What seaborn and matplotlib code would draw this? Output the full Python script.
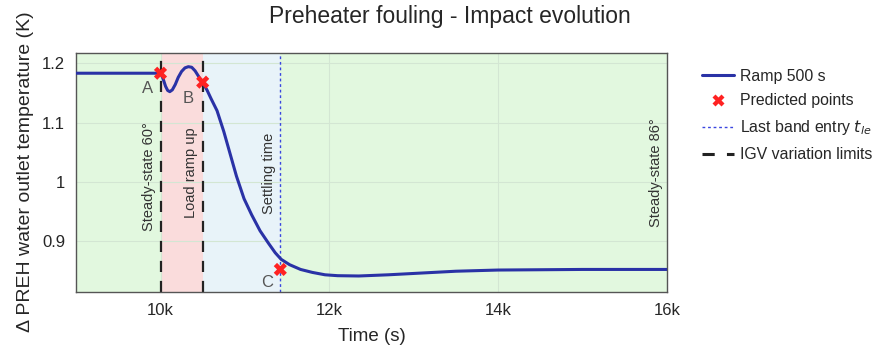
import numpy as np
import pandas as pd
import seaborn as sns
import matplotlib.pyplot as plt
from matplotlib.lines import Line2D
from matplotlib.ticker import FuncFormatter

# curve: time (s) and delta temperature (K)
time_s = [9000, 9500, 9900, 10000, 10030, 10060, 10085, 10110, 10140, 10175, 10210,
          10250, 10290, 10330, 10370, 10410, 10450, 10500, 10550, 10600, 10670,
          10750, 10830, 10900, 10990, 11080, 11180, 11280, 11360, 11430, 11530,
          11660, 11800, 11950, 12100, 12350, 12700, 13100, 13500, 14000, 15000, 16000]
delta_t = [1.183, 1.183, 1.183, 1.183, 1.174, 1.161, 1.154, 1.152, 1.155, 1.164, 1.176,
           1.186, 1.192, 1.194, 1.193, 1.187, 1.178, 1.167, 1.155, 1.140, 1.120,
           1.085, 1.045, 1.010, 0.972, 0.945, 0.918, 0.897, 0.881, 0.870, 0.861,
           0.853, 0.848, 0.844, 0.8425, 0.842, 0.844, 0.847, 0.850, 0.852, 0.853, 0.853]

pred_names = ['A', 'B', 'C']
pred_time = [10000, 10500, 11420]
pred_val = [1.183, 1.168, 0.853]

igv_limits = [10000, 10500]
settling_t = 11420

df = pd.DataFrame({'t': time_s, 'dT': delta_t})
pts = pd.DataFrame({'t': pred_time, 'dT': pred_val, 'name': pred_names})

sns.set_style('white')
plt.rcParams['font.family'] = ['Liberation Sans', 'DejaVu Sans']

fig = plt.figure(figsize=(8.75, 3.51), dpi=100)
ax = fig.add_axes([0.087, 0.169, 0.675, 0.681])
ax.set_facecolor('#e2f8df')

# shaded phases
ax.axvspan(igv_limits[0], igv_limits[1], color='#fadcdc', zorder=0.2, lw=0)
ax.axvspan(igv_limits[1], settling_t, color='#e8f3f9', zorder=0.2, lw=0)
ax.set_axisbelow(True)
ax.grid(True, color='#d3e6d3', lw=0.8)

for xv in igv_limits:
    ax.axvline(xv, color='#222222', lw=1.6, dashes=(5, 4), zorder=2)
ax.axvline(settling_t, color='#3a46e0', lw=1.0, dashes=(2, 2), zorder=2)

sns.lineplot(data=df, x='t', y='dT', ax=ax, color='#2a32a6', lw=2.2,
             estimator=None, sort=False, zorder=3)
sns.scatterplot(data=pts, x='t', y='dT', ax=ax, marker='X', s=90,
                color='#ff2222', edgecolor='none', zorder=4)

lab_off = {'A': (-150, -0.025), 'B': (-170, -0.028), 'C': (-160, -0.022)}
for n, tx, v in zip(pred_names, pred_time, pred_val):
    dx, dy = lab_off[n]
    ax.text(tx + dx, v + dy, n, color='#555555', fontsize=12, ha='center', va='center')

# phase labels
ax.text(9858, 1.01, 'Steady-state 60°', rotation=90, ha='center', va='center',
        fontsize=10.5, color='#333333')
ax.text(10363, 1.015, 'Load ramp up', rotation=90, ha='center', va='center',
        fontsize=10.5, color='#333333')
ax.text(11284, 1.015, 'Settling time', rotation=90, ha='center', va='center',
        fontsize=10.5, color='#333333')
ax.text(15870, 1.015, 'Steady-state 86°', rotation=90, ha='center', va='center',
        fontsize=10.5, color='#333333')

ax.set_xlim(9000, 16000)
ax.set_ylim(0.8156, 1.2176)
ax.set_xticks([10000, 12000, 14000, 16000])
ax.set_yticks([0.9, 1.0, 1.1, 1.2])
ax.xaxis.set_major_formatter(FuncFormatter(lambda v, p: f'{v / 1000:g}k'))
ax.yaxis.set_major_formatter(FuncFormatter(lambda v, p: f'{v:g}'))
ax.tick_params(direction='in', length=4, color='#888888', labelsize=12, pad=8)
for s in ax.spines.values():
    s.set_color('#555555')
    s.set_linewidth(1.0)

ax.set_xlabel('Time (s)', fontsize=13.5, labelpad=7)
ax.set_ylabel('Δ PREH water outlet temperature (K)', fontsize=14, labelpad=6)
fig.suptitle('Preheater fouling - Impact evolution', x=0.514, y=0.953, fontsize=16.5, va='center')

handles = [
    Line2D([], [], color='#2a32a6', lw=2.2),
    Line2D([], [], color='#ff2222', marker='X', ls='none', markersize=9, markeredgecolor='none'),
    Line2D([], [], color='#3a46e0', lw=1.0, dashes=(2, 2)),
    Line2D([], [], color='#222222', lw=2.2, dashes=(4, 4)),
]
labels = ['Ramp 500 s', 'Predicted points', 'Last band entry $t_{le}$', 'IGV variation limits']
fig.legend(handles, labels, loc='upper left', bbox_to_anchor=(0.786, 0.845), frameon=False,
           fontsize=11.4, handlelength=2.0, labelspacing=0.62, handletextpad=0.4)

fig.savefig('out.png', dpi=100)
